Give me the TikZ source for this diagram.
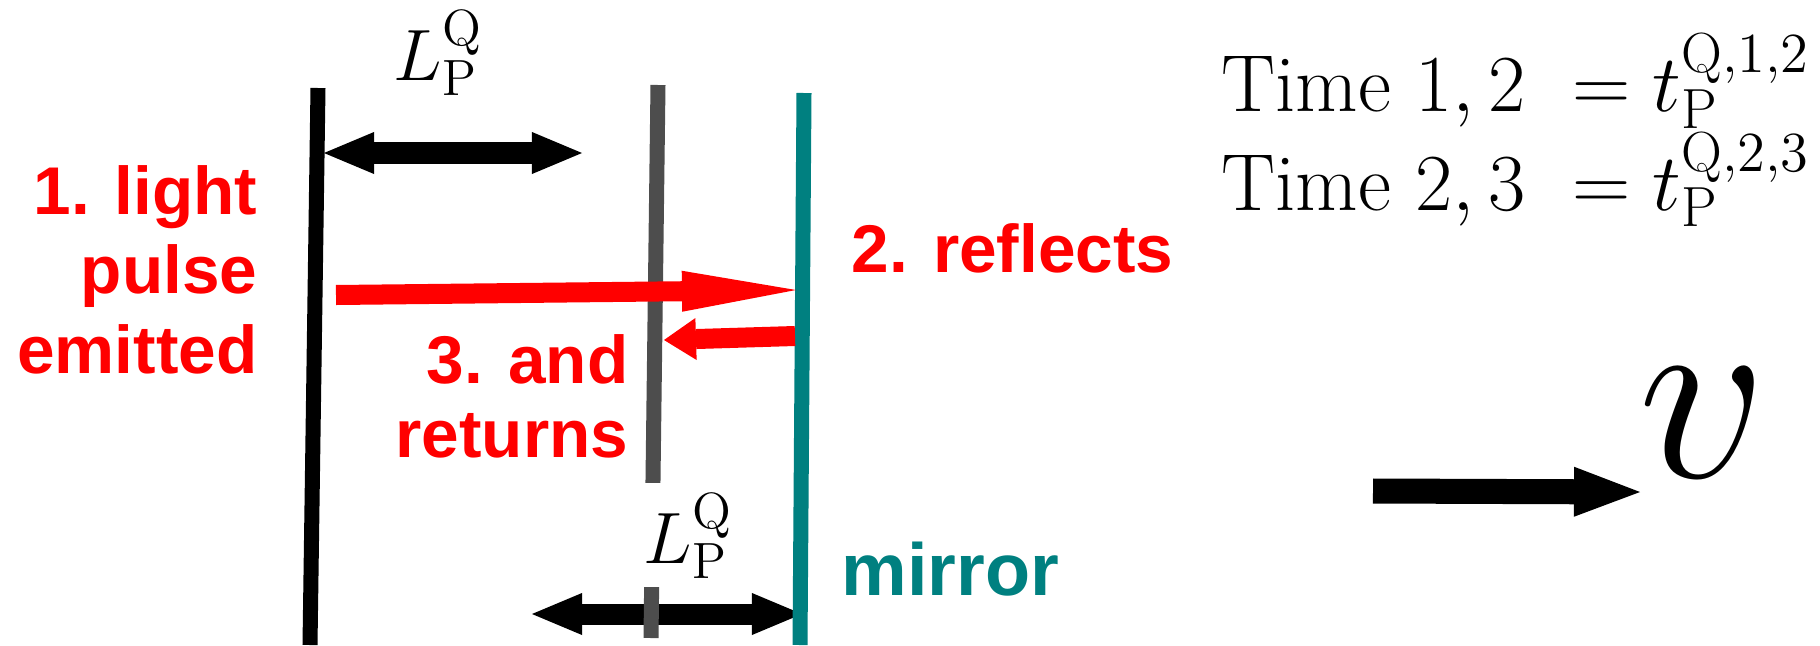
\RequirePackage{fix-cm}
\documentclass[tikz,border=0pt]{standalone}
\usepackage{fontspec}
\newfontfamily\stepfont{Liberation Sans}
\usetikzlibrary{arrows.meta}
\definecolor{mirrorteal}{RGB}{0,128,128}
\definecolor{plategray}{RGB}{77,77,77}

\begin{document}
\begin{tikzpicture}[x=0.01cm, y=-0.01cm,
  plate/.style={line width=0.15cm},
  dimarrow/.style={line width=0.21cm, {Triangle[length=0.5cm,width=0.42cm,line width=0pt]}-{Triangle[length=0.5cm,width=0.42cm,line width=0pt]}},
  pulse/.style={red, line width=0.2cm},
  steptext/.style={red, font=\stepfont\bfseries\fontsize{19.2}{22.5}\selectfont, inner sep=0pt},
  mathtext/.style={inner sep=0pt, font=\fontsize{20.7}{24}\selectfont}
]
\useasboundingbox (0,0) rectangle (1820,645);

% Draw length arrows
\coordinate (topleft) at (324,153);
\coordinate (topright) at (582,153);
\coordinate (botleft) at (532,614);
\coordinate (botright) at (802,614);
\draw[dimarrow] (topleft) -- (topright);
\draw[dimarrow] (botleft) -- (botright);

% Draw plates
\draw[plate] (318,88) -- (310,645);
\draw[plate, plategray] (658,85) -- (651,638);
\draw[plate, mirrorteal] (804,93) -- (800,645);

% Draw light pulse
\coordinate (emit) at (336,295);
\coordinate (hit) at (796,290);
\coordinate (back) at (795,336);
\coordinate (home) at (664,340);
\draw[pulse, -{Triangle[length=1.14cm,width=0.41cm,line width=0pt]}] (emit) -- (hit);
\draw[pulse, -{Triangle[length=0.32cm,width=0.42cm,line width=0pt]}] (back) -- (home);

% Label steps (anchored at the last line)
\node[steptext, anchor=base east, align=right] (emitted) at (258,373) {1. light\\pulse\\emitted};
\node[steptext, anchor=base west] (reflects) at (851,272) {2. reflects};
\node[steptext, anchor=base east, align=right, font=\stepfont\bfseries\fontsize{19.2}{20.8}\selectfont] (returns) at (629,457) {3. and\\returns};
\node[steptext, mirrorteal, anchor=base west, font=\stepfont\bfseries\fontsize{21}{24}\selectfont] (mirror) at (841,595) {mirror};

% Label lengths
\node[mathtext, anchor=base west] (lentop) at (393,80) {$L_{\mathrm{P}}^{\mathrm{Q}}$};
\node[mathtext, anchor=base west, fill=white, inner ysep=2.5pt] (lenbot) at (643,563) {$L_{\mathrm{P}}^{\mathrm{Q}}$};

% Times and velocity
\node[anchor=base west, align=left, inner sep=0pt, font=\fontsize{23}{26.5}\selectfont] (times) at (1221,210)
  {$\mathrm{Time}\ 1,2\ = t_{\mathrm{P}}^{\mathrm{Q},1,2}$\\$\mathrm{Time}\ 2,3\ = t_{\mathrm{P}}^{\mathrm{Q},2,3}$};
\coordinate (vstart) at (1373,491);
\coordinate (vend) at (1640,492);
\draw[line width=0.25cm, -{Triangle[length=0.66cm,width=0.5cm,line width=0pt]}] (vstart) -- (vend);
\node[anchor=base west, inner sep=0pt, font=\fontsize{72}{80}\selectfont] (speed) at (1638,477) {$v$};
\end{tikzpicture}
\end{document}
